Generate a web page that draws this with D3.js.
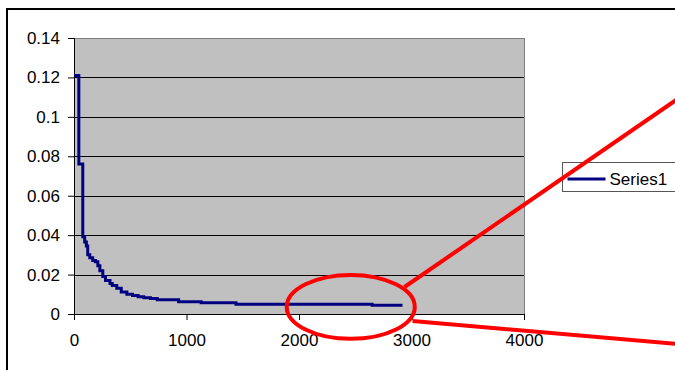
<!DOCTYPE html>
<html>
<head>
<meta charset="utf-8">
<script src="https://cdn.jsdelivr.net/npm/d3@7"></script>
<style>
  body { margin: 0; background: #fff; }
  svg { display: block; font-family: "Liberation Sans", Arial, sans-serif; }
</style>
</head>
<body>
<div id="chart"></div>
<script>
// step series (x where the level starts, level)
const xValues = [0, 43, 78, 95, 110, 122, 140, 166, 190, 212, 230, 256, 280, 320, 340, 380, 420, 470, 520, 570, 620, 680, 740, 930, 1130, 1440, 2650, 2920];
const yValues = [0.121, 0.0761, 0.0392, 0.0365, 0.0345, 0.030, 0.0285, 0.0272, 0.0265, 0.0245, 0.022, 0.019, 0.017, 0.0155, 0.0145, 0.013, 0.0112, 0.0100, 0.0094, 0.0088, 0.0082, 0.0078, 0.0072, 0.0062, 0.0057, 0.0049, 0.0044, 0.0044];
const xTicks = [0, 1000, 2000, 3000, 4000];
const yTicks = [0, 0.02, 0.04, 0.06, 0.08, 0.1, 0.12, 0.14];
const seriesName = "Series1";

const W = 675, H = 370;
const margin = {top: 38, left: 74},
    width = 450,
    height = 276;

const svg = d3.select("#chart").append("svg")
    .attr("width", W)
    .attr("height", H);

// outer frame, runs off the right and bottom edge
svg.append("rect")
    .attr("x", 7).attr("y", 9)
    .attr("width", 720).attr("height", 420)
    .attr("fill", "none")
    .attr("stroke", "#000")
    .attr("stroke-width", 2);

const x = d3.scaleLinear().domain([0, 4000]).range([margin.left, margin.left + width]);
const y = d3.scaleLinear().domain([0, 0.14]).range([margin.top + height, margin.top]);

// plot area
svg.append("rect")
    .attr("x", x(0) + 0.5).attr("y", y(0.14) + 0.5)
    .attr("width", x(4000) - x(0)).attr("height", y(0) - y(0.14))
    .attr("fill", "#c0c0c0")
    .attr("stroke", "#808080");

// gridlines
svg.append("g")
    .selectAll("line")
    .data(yTicks.slice(1, -1))
    .enter()
    .append("line")
        .attr("x1", x(0)).attr("x2", x(4000))
        .attr("y1", d => Math.round(y(d)) + 0.5)
        .attr("y2", d => Math.round(y(d)) + 0.5)
        .attr("stroke", "#000");

// axes
const yAxis = svg.append("g")
    .attr("transform", `translate(${x(0)},0)`)
    .call(d3.axisLeft(y).tickValues(yTicks).tickSize(6).tickPadding(8)
        .tickFormat(d => String(+d.toFixed(2))));
const xAxis = svg.append("g")
    .attr("transform", `translate(0,${y(0)})`)
    .call(d3.axisBottom(x).tickValues(xTicks).tickSize(6).tickPadding(14)
        .tickFormat(d3.format("d")));

[yAxis, xAxis].forEach(a => {
    a.selectAll("path, line").attr("stroke", "#000");
    a.selectAll("text")
        .attr("fill", "#000")
        .style("font-size", "17px")
        .style("font-family", '"Liberation Sans", Arial, sans-serif');
});

// the series
const points = xValues.map((v, i) => [v, yValues[i]]);
const line = d3.line()
    .x(d => x(d[0]))
    .y(d => y(d[1]))
    .curve(d3.curveStepAfter);

svg.append("path")
    .datum(points)
    .attr("d", line)
    .attr("fill", "none")
    .attr("stroke", "#000080")
    .attr("stroke-width", 3)
    .attr("stroke-linejoin", "miter");

// legend
const legend = svg.append("g").attr("transform", "translate(562.5,162.5)");
legend.append("rect")
    .attr("width", 200).attr("height", 29)
    .attr("fill", "#fff")
    .attr("stroke", "#555");
legend.append("line")
    .attr("x1", 5).attr("x2", 43)
    .attr("y1", 16.5).attr("y2", 16.5)
    .attr("stroke", "#000080")
    .attr("stroke-width", 3);
legend.append("text")
    .attr("x", 47).attr("y", 16.5)
    .attr("dy", "0.35em")
    .style("font-size", "17px")
    .attr("fill", "#000")
    .text(seriesName);

// red zoom annotation, placed in data units
const note = {cx: 2460, cy: 0.0036, rx: 569, ry: 0.0162};
svg.append("ellipse")
    .attr("cx", x(note.cx))
    .attr("cy", y(note.cy))
    .attr("rx", x(note.rx) - x(0))
    .attr("ry", y(0) - y(note.ry))
    .attr("fill", "none")
    .attr("stroke", "#ff0000")
    .attr("stroke-width", 4);

const noteLines = [
    [[2938, 0.0137], [5560, 0.1167]],
    [[3009, -0.0036], [5560, -0.0162]]
];
svg.append("g")
    .selectAll("line")
    .data(noteLines)
    .enter()
    .append("line")
        .attr("x1", d => x(d[0][0])).attr("y1", d => y(d[0][1]))
        .attr("x2", d => x(d[1][0])).attr("y2", d => y(d[1][1]))
        .attr("stroke", "#ff0000")
        .attr("stroke-width", 4);
</script>
</body>
</html>
